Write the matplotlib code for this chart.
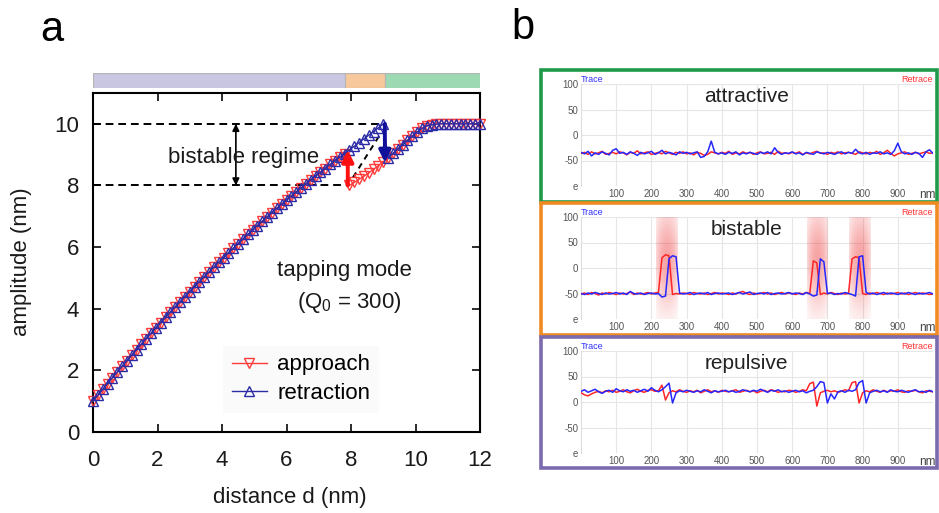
import numpy as np
import matplotlib
matplotlib.use('Agg')
import matplotlib.pyplot as plt
from matplotlib.patches import Rectangle

plt.rcParams['font.family'] = ['Liberation Sans', 'DejaVu Sans']
plt.rcParams['mathtext.fontset'] = 'custom'
plt.rcParams['mathtext.rm'] = 'Liberation Sans'
plt.rcParams['mathtext.it'] = 'Liberation Sans:italic'

# ---- panel a: amplitude vs tip-sample distance ----
# upper branch, d = 0 ... 9.0 nm in 0.15 nm steps
amp_upper = [1.00, 1.19, 1.38, 1.57, 1.76, 1.94, 2.13, 2.31, 2.49, 2.67,
             2.85, 3.03, 3.20, 3.38, 3.55, 3.72, 3.89, 4.06, 4.22, 4.39,
             4.55, 4.72, 4.88, 5.04, 5.19, 5.35, 5.51, 5.66, 5.81, 5.96,
             6.11, 6.26, 6.41, 6.55, 6.70, 6.84, 6.98, 7.12, 7.26, 7.39,
             7.53, 7.66, 7.79, 7.92, 8.05, 8.18, 8.31, 8.43, 8.55, 8.68,
             8.80, 8.92, 9.03, 9.15, 9.27, 9.39, 9.51, 9.63, 9.75, 9.87,
             10.00]
# lower branch, d = 7.95 ... 12.0 nm
amp_lower = [8.00, 8.10, 8.20, 8.30, 8.41, 8.52, 8.64, 8.77, 8.90, 9.04,
             9.18, 9.32, 9.46, 9.60, 9.73, 9.85, 9.93, 9.97, 9.99, 10.00,
             10.00, 10.00, 10.00, 10.00, 10.00, 10.00, 10.00, 10.00]
d_step = 0.15
d_lower_start = 7.95
approach_jump = 7.9      # lower -> upper branch on approach
retract_jump = 9.05      # upper -> lower branch on retraction
regime_edges = [0, 7.8, 9.05, 12]
regime_colors = ['#c9c7e1', '#f6c89b', '#9dd9b3']

# ---- panel b: line profiles (nm, arb. units) ----
profile_nm = np.arange(0, 1001, 10)
attr_retrace = [-36, -34, -38, -33, -37, -35, -32, -38, -36, -34,
                -37, -33, -35, -39, -34, -36, -31, -37, -35, -33,
                -38, -36, -34, -37, -32, -35, -38, -34, -36, -33,
                -37, -35, -39, -34, -36, -40, -38, -33, -35, -37,
                -34, -36, -32, -38, -35, -37, -33, -36, -34, -38,
                -35, -33, -37, -36, -34, -38, -32, -36, -35, -37,
                -34, -36, -33, -38, -35, -37, -34, -32, -36, -35,
                -38, -34, -36, -33, -37, -35, -34, -36, -38, -33,
                -35, -37, -34, -36, -32, -38, -35, -30, -36, -41,
                -37, -35, -33, -38, -36, -34, -37, -35, -33, -36, -35]
attr_trace = [-34, -37, -32, -41, -35, -38, -33, -36, -39, -30,
              -27, -36, -34, -38, -33, -36, -40, -34, -37, -35,
              -32, -38, -35, -30, -37, -34, -36, -39, -33, -36,
              -34, -37, -35, -33, -44, -42, -33, -12, -34, -37,
              -35, -38, -34, -36, -33, -39, -35, -37, -34, -36,
              -38, -34, -36, -33, -37, -25, -34, -38, -35, -36,
              -33, -37, -35, -39, -34, -36, -38, -33, -35, -37,
              -34, -36, -38, -35, -33, -37, -34, -36, -28, -35,
              -37, -34, -38, -35, -36, -33, -37, -35, -38, -31,
              -16, -33, -37, -35, -38, -34, -36, -44, -33, -29, -36]
bist_retrace = [-51, -49, -52, -48, -50, -53, -49, -51, -48, -50,
                -52, -49, -51, -50, -47, -52, -49, -51, -50, -48,
                -51, -49, -48, 20, 26, 24, -52, -50, -51, -49,
                -50, -52, -48, -50, -51, -49, -52, -50, -48, -51,
                -49, -50, -52, -49, -51, -48, -46, -50, -52, -49,
                -51, -50, -48, -51, -49, -52, -50, -48, -51, -49,
                -50, -52, -49, -51, -48, -50, 14, 10, -52, -49,
                -51, -48, -50, -52, -49, -51, -50, 18, 22, 20,
                -50, -52, -49, -51, -48, -50, -52, -49, -51, -50,
                -48, -51, -49, -52, -50, -48, -51, -49, -50, -52, -51]
bist_trace = [-50, -52, -49, -51, -48, -50, -52, -49, -51, -50,
              -48, -51, -49, -52, -46, -50, -51, -49, -52, -50,
              -49, -51, -50, -57, -55, 18, 24, 22, -49, -51,
              -50, -48, -52, -50, -49, -51, -48, -52, -50, -49,
              -51, -50, -49, -52, -50, -48, -51, -49, -47, -52,
              -50, -49, -51, -48, -52, -50, -49, -51, -50, -48,
              -51, -49, -50, -52, -48, -51, -55, -53, 18, 12,
              -50, -49, -52, -50, -51, -48, -50, -52, -55, 22,
              24, -48, -51, -49, -52, -50, -48, -51, -49, -50,
              -52, -49, -51, -48, -50, -52, -49, -51, -50, -48, -51]
rep_retrace = [18, 14, 12, 16, 19, 21, 18, 22, 20, 23,
               19, 21, 24, 20, 18, 22, 25, 21, 19, 23,
               24, 21, 22, 33, 4, 18, 22, 20, 24, 21,
               19, 22, 20, 23, 18, 21, 24, 20, 22, 19,
               23, 21, 20, 22, 24, 19, 21, 23, 20, 22,
               18, 21, 23, 20, 24, 22, 19, 21, 20, 23,
               22, 19, 21, 24, 22, 36, 39, -8, 18, 21,
               23, 20, 22, 19, 21, 24, 22, 38, 40, -2,
               18, 22, 20, 24, 21, 19, 23, 20, 22, 21,
               24, 20, 19, 22, 21, 23, 20, 18, 22, 21, 20]
rep_trace = [21, 24, 19, 22, 25, 20, 17, 21, 23, 19,
             26, 22, 20, 24, 21, 23, 19, 22, 25, 21,
             28, 23, 20, 24, 30, 37, -2, 18, 22, 20,
             23, 21, 19, 22, 20, 24, 21, 18, 22, 20,
             21, 23, 20, 22, 19, 21, 24, 22, 20, 23,
             21, 25, 22, 19, 23, 21, 24, 20, 22, 19,
             21, 23, 20, 22, 18, 21, 23, 30, 40, 38,
             -2, 16, 6, 20, 22, 19, 23, 21, 24, 38,
             42, -2, 18, 21, 23, 20, 22, 19, 24, 21,
             20, 23, 21, 19, 22, 24, 20, 21, 19, 23, 20]
switch_bands = [(213, 273), (641, 699), (761, 821)]

RED = '#ff3b3b'
BLUE = '#2b2ba6'
W, H = 939, 513


def px_box(x0, y0, x1, y1):
    """pixel box (origin top-left) -> figure rect"""
    return [x0 / W, 1 - y1 / H, (x1 - x0) / W, (y1 - y0) / H]


fig = plt.figure(figsize=(W / 100, H / 100), dpi=100)

# ---------------- panel a ----------------
ax = fig.add_axes(px_box(93, 93, 480, 432))
d_upper = np.round(np.arange(len(amp_upper)) * d_step, 2)
d_lower = np.round(d_lower_start + np.arange(len(amp_lower)) * d_step, 2)
amp_upper = np.array(amp_upper)
amp_lower = np.array(amp_lower)

up_a = d_upper < approach_jump
d_app = np.concatenate([d_upper[up_a], d_lower])
a_app = np.concatenate([amp_upper[up_a], amp_lower])
lo_r = d_lower > retract_jump
d_ret = np.concatenate([d_upper, d_lower[lo_r]])
a_ret = np.concatenate([amp_upper, amp_lower[lo_r]])

ax.plot(d_app, a_app, color=RED, lw=1.0, marker='v', ms=7, mfc='none',
        mec=RED, mew=1.0, clip_on=False, label='approach', zorder=3)
ax.plot(d_ret, a_ret, color=BLUE, lw=1.0, marker='^', ms=7, mfc='none',
        mec=BLUE, mew=1.0, clip_on=False, label='retraction', zorder=4)

# bistable window guides
a_hi, a_lo = 10.0, 8.0
ax.plot([0, 8.95], [a_hi, a_hi], color='k', lw=1.4, ls=(0, (4, 2.5)), zorder=2)
ax.plot([0, approach_jump], [a_lo, a_lo], color='k', lw=1.4, ls=(0, (4, 2.5)), zorder=2)
ax.plot([8.06, 8.9], [8.26, 9.65], color='k', lw=1.4, ls=(0, (3, 2.5)), zorder=2)
ax.annotate('', xy=(4.43, a_hi), xytext=(4.43, a_lo),
            arrowprops=dict(arrowstyle='<|-|>', color='k', lw=1.2,
                            mutation_scale=10, shrinkA=0, shrinkB=0))
ax.annotate('', xy=(approach_jump, 9.15), xytext=(approach_jump, a_lo),
            arrowprops=dict(arrowstyle='-|>', color='#ff1010', lw=2.8,
                            mutation_scale=17, shrinkA=0, shrinkB=0), zorder=5)
ax.annotate('', xy=(retract_jump, 8.75), xytext=(retract_jump, a_hi),
            arrowprops=dict(arrowstyle='-|>', color='#10109a', lw=2.8,
                            mutation_scale=17, shrinkA=0, shrinkB=0), zorder=5)

ax.text(4.67, 8.9, 'bistable regime', fontsize=16, ha='center', va='center',
        color='#1a1a1a', zorder=6)
ax.text(7.8, 5.25, 'tapping mode', fontsize=16, ha='center', va='center', color='#1a1a1a')
ax.text(7.95, 4.2, r'(Q$_0$ = 300)', fontsize=16, ha='center', va='center', color='#1a1a1a')

ax.set_xlim(0, 12)
ax.set_ylim(0, 11)
ax.set_xticks(range(0, 13, 2))
ax.set_yticks(range(0, 11, 2))
ax.tick_params(direction='in', length=6, width=1.3, top=True, right=True,
               labelsize=16, colors='#1a1a1a')
ax.tick_params(axis='x', pad=13)
ax.tick_params(axis='y', pad=10)
for s in ax.spines.values():
    s.set_linewidth(1.5)

leg = ax.legend(loc='upper left', bbox_to_anchor=(0.335, 0.255), fontsize=16,
                frameon=True, facecolor='#fafafa', edgecolor='none', framealpha=1,
                fancybox=False, handlelength=1.6, handletextpad=0.45,
                labelspacing=0.35, borderpad=0.4, numpoints=1, borderaxespad=0)

fig.text(22 / W, 1 - 262 / H, 'amplitude (nm)', rotation=90, fontsize=16,
         ha='center', va='center', color='#1a1a1a')
fig.text(290 / W, 1 - 498 / H, 'distance d (nm)', fontsize=16,
         ha='center', va='center', color='#1a1a1a')

# regime bar above panel a
bar = fig.add_axes(px_box(93, 73, 480, 88))
for lo, hi, c in zip(regime_edges[:-1], regime_edges[1:], regime_colors):
    bar.barh(0, hi - lo, left=lo, height=1, color=c, edgecolor='#b5b5b5', lw=0.8)
bar.set_xlim(0, 12)
bar.set_ylim(-0.5, 0.5)
bar.axis('off')

fig.text(52 / W, 1 - 30 / H, 'a', fontsize=30, ha='center', va='center')
fig.text(523 / W, 1 - 28 / H, 'b', fontsize=30, ha='center', va='center')

# ---------------- panel b ----------------
panels = [
    ('attractive', attr_trace, attr_retrace, '#1f9a4b', 70, 202),
    ('bistable', bist_trace, bist_retrace, '#f08a22', 203, 335),
    ('repulsive', rep_trace, rep_retrace, '#7b6aae', 337, 468),
]

for name, trace, retrace, fcol, ftop, fbot in panels:
    fig.patches.append(Rectangle((541 / W, 1 - fbot / H), 396 / W, (fbot - ftop) / H,
                                 transform=fig.transFigure, fill=False,
                                 ec=fcol, lw=2.6, zorder=10))
    sub = fig.add_axes(px_box(581, ftop + 14, 933, ftop + 116))
    if name == 'bistable':
        u = np.linspace(-1, 1, 40)
        v = np.linspace(100, -100, 80)
        alpha = 0.42 * (1 - 0.55 * u[None, :] ** 2) * np.exp(-((v[:, None] - 20) / 95) ** 2)
        grad = np.zeros((len(v), len(u), 4))
        grad[..., 0] = 0.93
        grad[..., 1] = 0.15
        grad[..., 2] = 0.15
        grad[..., 3] = alpha
        for lo, hi in switch_bands:
            sub.imshow(grad, extent=(lo, hi, -100, 100), aspect='auto',
                       interpolation='bilinear', zorder=1)
    sub.plot(profile_nm, retrace, color='#ff2626', lw=1.1, zorder=3)
    sub.plot(profile_nm, trace, color='#2626ff', lw=1.1, zorder=3)
    sub.set_xlim(0, 1000)
    sub.set_ylim(-100, 100)
    sub.set_xticks(range(100, 1000, 100))
    sub.set_yticks([-100, -50, 0, 50, 100])
    sub.set_yticklabels(['e', '-50', '0', '50', '100'])
    sub.get_yticklabels()[0].set_fontsize(5)
    sub.grid(color='#e6e6e6', lw=0.8, zorder=0)
    sub.set_axisbelow(True)
    sub.tick_params(length=0, labelsize=7, colors='#555555', pad=2)
    for k, s in sub.spines.items():
        s.set_visible(k == 'left')
    sub.spines['left'].set_color('#dddddd')
    sub.patch.set_alpha(0)
    sub.text(0.0, 1.0, 'Trace', transform=sub.transAxes, ha='left', va='bottom',
             fontsize=6.5, color='#3333ff')
    sub.text(1.0, 1.0, 'Retrace', transform=sub.transAxes, ha='right', va='bottom',
             fontsize=6.5, color='#ff3333')
    sub.text(0.47, 0.88, name, transform=sub.transAxes, ha='center', va='center',
             fontsize=15, color='#222222', zorder=5)
    sub.annotate('nm', xy=(1.0, 0.0), xycoords='axes fraction', xytext=(-4, -2),
                 textcoords='offset points', ha='center', va='top',
                 fontsize=8.5, color='#444444')

fig.savefig('out.png', dpi=100)
